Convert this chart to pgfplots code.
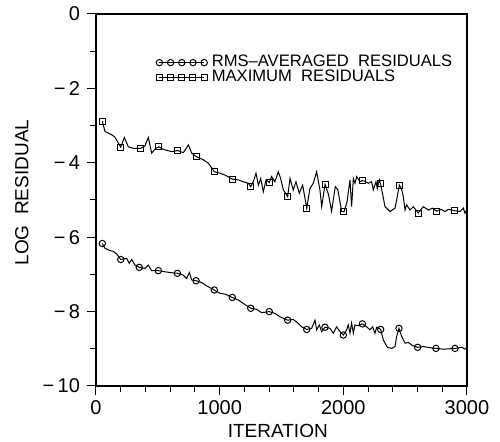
\documentclass[border=0pt]{standalone}
\usepackage{fontspec}
\setmainfont{Liberation Sans}
\usepackage{pgfplots}
\pgfplotsset{compat=1.18}

% max residuals (square marks)
\pgfplotstableread{
x y
51 -2.88
73 -3.16
100 -3.20
127 -3.25
150 -3.30
167 -3.39
200 -3.58
229 -3.32
261 -3.57
302 -3.61
361 -3.61
395 -3.55
423 -3.32
450 -3.74
480 -3.62
509 -3.57
544 -3.64
612 -3.70
661 -3.67
706 -3.73
747 -3.52
774 -3.74
809 -3.83
868 -3.92
908 -4.01
957 -4.24
1003 -4.28
1043 -4.33
1102 -4.44
1151 -4.46
1191 -4.51
1232 -4.55
1251 -4.64
1272 -4.51
1294 -4.28
1313 -4.60
1332 -4.42
1353 -4.78
1375 -4.46
1401 -4.53
1420 -4.37
1447 -4.51
1474 -4.24
1493 -4.42
1515 -4.73
1550 -4.91
1569 -4.42
1595 -4.73
1617 -4.51
1644 -4.82
1671 -4.60
1704 -5.22
1730 -4.69
1757 -4.55
1784 -4.24
1811 -4.73
1825 -5.18
1852 -4.58
1880 -4.85
1905 -5.30
1935 -4.64
1955 -4.72
1987 -5.31
2005 -5.32
2030 -5.05
2054 -4.46
2067 -5.18
2081 -4.42
2094 -4.55
2108 -4.37
2135 -4.51
2154 -4.48
2175 -4.50
2202 -4.55
2229 -4.51
2242 -4.73
2264 -4.51
2275 -4.69
2291 -4.46
2302 -4.57
2337 -5.18
2377 -5.31
2418 -5.22
2431 -5.00
2453 -4.60
2470 -4.70
2485 -4.91
2499 -5.27
2512 -5.13
2539 -5.27
2566 -5.18
2606 -5.35
2647 -5.18
2688 -5.27
2720 -5.22
2755 -5.30
2790 -5.25
2822 -5.31
2849 -5.25
2903 -5.29
2943 -5.31
2970 -5.22
2984 -5.36
2995 -5.28
}\maxres

\pgfplotstableread{
x y
51 -2.88
200 -3.58
361 -3.61
509 -3.57
661 -3.67
809 -3.83
957 -4.24
1102 -4.44
1251 -4.64
1401 -4.53
1550 -4.91
1704 -5.22
1852 -4.58
2005 -5.32
2154 -4.48
2302 -4.57
2453 -4.60
2606 -5.35
2755 -5.30
2903 -5.29
}\maxmarks

% rms-averaged residuals (circle marks)
\pgfplotstableread{
x y
51 -6.17
73 -6.30
113 -6.36
140 -6.38
167 -6.45
200 -6.60
248 -6.57
269 -6.70
289 -6.60
315 -6.75
350 -6.81
396 -6.84
423 -6.75
450 -6.90
504 -6.90
558 -6.93
598 -6.95
658 -6.97
706 -7.02
733 -7.11
755 -6.95
774 -7.15
809 -7.17
855 -7.22
895 -7.31
957 -7.42
1003 -7.51
1043 -7.53
1102 -7.62
1151 -7.69
1191 -7.78
1251 -7.91
1299 -7.94
1340 -8.03
1401 -8.00
1447 -8.05
1488 -8.14
1550 -8.23
1595 -8.21
1636 -8.32
1663 -8.41
1704 -8.48
1744 -8.45
1771 -8.23
1784 -8.49
1806 -8.36
1825 -8.54
1852 -8.42
1892 -8.45
1919 -8.58
1946 -8.41
1975 -8.55
2000 -8.63
2027 -8.49
2040 -8.36
2054 -8.58
2067 -8.31
2081 -8.58
2094 -8.36
2120 -8.38
2154 -8.33
2189 -8.41
2215 -8.49
2237 -8.41
2256 -8.58
2270 -8.42
2302 -8.48
2323 -8.76
2356 -8.96
2391 -8.99
2418 -8.94
2431 -8.67
2450 -8.45
2472 -8.67
2499 -8.85
2526 -8.83
2553 -8.90
2601 -8.96
2647 -8.94
2700 -8.97
2749 -8.99
2808 -9.01
2903 -8.99
2957 -8.96
2984 -9.01
2995 -8.98
}\rmsres

\pgfplotstableread{
x y
51 -6.17
200 -6.60
350 -6.81
504 -6.90
658 -6.97
809 -7.17
957 -7.42
1102 -7.62
1251 -7.91
1401 -8.00
1550 -8.23
1704 -8.48
1852 -8.42
2000 -8.63
2154 -8.33
2302 -8.48
2450 -8.45
2601 -8.96
2749 -8.99
2903 -8.99
}\rmsmarks

\begin{document}
\begin{tikzpicture}
\begin{axis}[
    scale only axis,
    width=185.5pt, height=186pt,
    xmin=0, xmax=3000, ymin=-10, ymax=0,
    xtick={0,1000,2000,3000},
    minor x tick num=4,
    ytick={-10,-8,-6,-4,-2,0},
    yticklabels={−\,10,−\,8,−\,6,−\,4,−\,2,0},
    minor y tick num=1,
    xtick pos=left, ytick pos=left,
    tick align=outside,
    major tick length=4.5pt, minor tick length=3pt,
    axis line style={line width=0.6pt},
    every tick/.style={black, line width=0.5pt},
    /pgf/number format/assume math mode=true,
    /pgf/number format/1000 sep={},
    tick label style={font=\fontsize{10}{12}\selectfont},
    xticklabel style={yshift=1pt},
    xlabel={ITERATION}, ylabel={LOG\ \ RESIDUAL},
    label style={font=\fontsize{9.5}{11}\selectfont},
    xlabel style={at={(axis description cs:0.49,-0.12)}, anchor=center},
    ylabel style={at={(axis description cs:-0.2,0.52)}, anchor=center},
    legend cell align=left,
    legend style={draw=none, fill=none, at={(axis description cs:0.145,0.905)}, anchor=north west,
        font=\fontsize{8.3}{8.7}\selectfont, row sep=-1.5pt,
        nodes={inner ysep=0.8pt, inner xsep=2.2pt}},
    legend image code/.code={\draw[#1, sharp plot] plot coordinates {(0pt,0pt) (5.6pt,0pt) (11.2pt,0pt) (16.8pt,0pt) (22.4pt,0pt)};},
]
\addplot[black, line width=0.5pt, forget plot] table {\maxres};
\addplot[black, line width=0.5pt, forget plot] table {\rmsres};
\addplot[black, line width=0.5pt, only marks, mark=o, mark size=1.6pt] table {\rmsmarks};
\addlegendentry{RMS--AVERAGED\ \ RESIDUALS}
\addplot[black, line width=0.5pt, only marks, mark=square, mark size=1.5pt] table {\maxmarks};
\addlegendentry{MAXIMUM\ \ RESIDUALS}
\end{axis}
\pgfresetboundingbox
\path[use as bounding box] ([shift={(-48pt,-28pt)}]current axis.south west) rectangle ([shift={(16.5pt,7pt)}]current axis.north east);
\end{tikzpicture}
\end{document}
